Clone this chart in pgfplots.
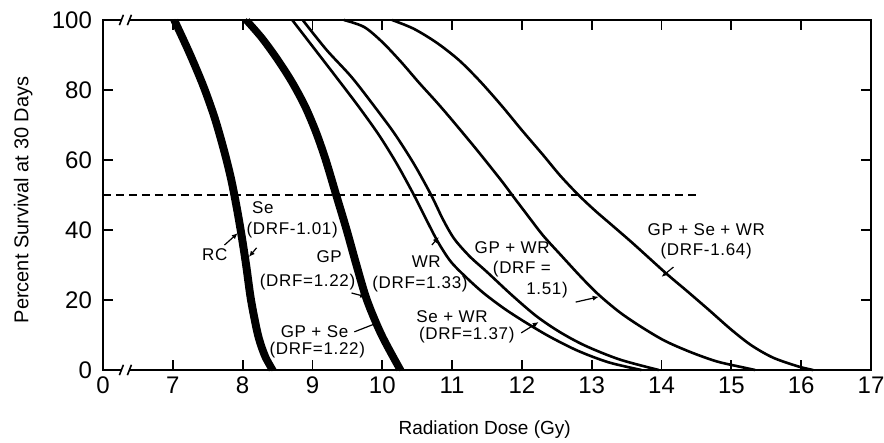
\documentclass[border=0pt]{standalone}
\usepackage{fontspec}
\setmainfont{Liberation Sans}
\usepackage{pgfplots}
\pgfplotsset{compat=1.18}
\usetikzlibrary{arrows.meta}

\tikzset{
  lab/.style={font=\fontsize{8.5}{9}\selectfont\addfontfeatures{LetterSpace=4}, inner sep=0pt},
  arr/.style={-{Latex[length=3pt,width=2.6pt]}, line width=0.6pt},
}

\begin{document}
\begin{tikzpicture}
\begin{axis}[
  name=ax,
  scale only axis,
  width=384pt, height=175pt,
  xmin=6, xmax=17, ymin=0, ymax=100,
  clip=false,
  axis line style={line width=1.1pt},
  xtick={6,...,17},
  xticklabels={0,7,8,9,10,11,12,13,14,15,16,17},
  ytick={0,20,40,60,80,100},
  tick align=inside,
  major tick length=5pt,
  tick style={line width=0.9pt, black},
  tick label style={font=\fontsize{12}{12}\selectfont},
  yticklabel style={xshift=-2pt},
  /pgf/number format/assume math mode=true,
  xlabel={Radiation Dose (Gy)},
  ylabel={Percent Survival at 30 Days},
  xlabel style={font=\fontsize{9.5}{10}\selectfont, at={(axis description cs:0.497,-0.171)}, anchor=center},
  ylabel style={font=\fontsize{10}{11}\selectfont, at={(axis description cs:-0.104,0.486)}, anchor=center},
]

% 50% survival reference
\addplot[black, line width=0.8pt, dash pattern=on 4pt off 2.5pt] coordinates {(6,50) (14.56,50)};

% RC and Se (thick pair)
\addplot[black, line width=2.6pt, smooth] coordinates {
(7.00,100) (7.22,90.5) (7.42,81) (7.58,72) (7.71,63) (7.81,55) (7.89,47) (7.96,39) (8.03,30) (8.10,20) (8.20,10) (8.30,4) (8.41,0)};
\addplot[black, line width=2.6pt, smooth] coordinates {
(7.04,100) (7.26,90.5) (7.46,81) (7.62,72) (7.75,63) (7.85,55) (7.93,47) (8.00,39) (8.07,30) (8.14,20) (8.24,10) (8.34,4) (8.45,0)};

% GP and GP + Se (thick pair)
\addplot[black, line width=2.6pt, smooth] coordinates {
(8.03,100) (8.25,95) (8.47,89) (8.68,82.5) (8.87,75.5) (9.03,68) (9.17,60) (9.32,50) (9.47,40) (9.61,30) (9.76,20) (9.97,10) (10.24,0)};
\addplot[black, line width=2.6pt, smooth] coordinates {
(8.07,100) (8.29,95) (8.51,89) (8.72,82.5) (8.91,75.5) (9.07,68) (9.21,60) (9.36,50) (9.51,40) (9.65,30) (9.80,20) (10.01,10) (10.28,0)};

% WR
\addplot[black, line width=1.3pt, smooth] coordinates {
(8.71,100) (9.00,92.5) (9.34,83.7) (9.66,75.3) (9.95,67.2) (10.20,59.2) (10.44,50.5) (10.63,43) (10.80,36.5) (10.98,31) (11.20,26.5) (11.45,22) (11.75,17.5) (12.06,13.5) (12.40,9.5) (12.80,5.5) (13.24,2.2) (13.71,0)};
% Se + WR
\addplot[black, line width=1.3pt, smooth] coordinates {
(8.86,100) (9.20,91.5) (9.56,83.7) (9.88,75.5) (10.17,67.7) (10.45,59) (10.70,50) (10.87,43) (11.03,37.5) (11.25,32.5) (11.50,28) (11.85,21.5) (12.20,15.5) (12.53,11) (12.90,7) (13.40,3) (13.96,0)};
% GP + WR
\addplot[black, line width=1.3pt, smooth] coordinates {
(9.45,100) (9.74,98) (10.00,93.7) (10.27,88) (10.53,82) (10.78,76.5) (11.00,71.4) (11.35,63) (11.71,54) (11.86,50) (12.05,45) (12.30,38.5) (12.55,33) (12.85,26.5) (13.10,21.5) (13.40,16.5) (13.71,12.3) (14.05,8.3) (14.43,5) (14.80,2.4) (15.20,0.6) (15.34,0)};
% GP + Se + WR
\addplot[black, line width=1.3pt, smooth] coordinates {
(10.14,100) (10.45,97.5) (10.78,93.5) (11.10,88.5) (11.40,82.5) (11.71,75.5) (12.00,68.5) (12.30,61.5) (12.55,55.5) (12.81,50) (13.05,45.5) (13.30,41.2) (13.60,36) (14.06,27.7) (14.35,22.8) (14.67,17.3) (15.00,11.5) (15.29,7) (15.60,3.5) (15.96,1) (16.17,0)};

% labels
\node[lab, anchor=west] at (axis cs:8.13,46.3) {Se};
\node[lab] at (axis cs:8.71,40) {(DRF-1.01)};
\node[lab] at (axis cs:7.60,32.9) {RC};
\draw[arr] (axis cs:7.74,35.7) -- (axis cs:7.93,39.1);
\draw[arr] (axis cs:8.20,34.9) -- (axis cs:8.09,32.3);

\node[lab] at (axis cs:9.24,32.3) {GP};
\node[lab] at (axis cs:8.93,25.1) {(DRF=1.22)};
\draw[arr] (axis cs:9.56,22) -- (axis cs:9.77,20.9);

\node[lab] at (axis cs:9.03,10.9) {GP + Se};
\node[lab] at (axis cs:9.07,5.7) {(DRF=1.22)};
\draw[arr] (axis cs:9.60,10.9) -- (axis cs:9.96,13.7);

\node[lab] at (axis cs:10.63,30.9) {WR};
\node[lab] at (axis cs:10.54,24.6) {(DRF=1.33)};
\draw[arr] (axis cs:10.71,35.7) -- (axis cs:10.81,38);

\node[lab] at (axis cs:11.86,34.9) {GP + WR};
\node[lab] at (axis cs:12.00,28.9) {(DRF =};
\node[lab] at (axis cs:12.36,22.9) {1.51)};
\draw[arr] (axis cs:12.77,19.4) -- (axis cs:13.10,20.9);

\node[lab] at (axis cs:11.00,15.1) {Se + WR};
\node[lab] at (axis cs:11.21,10) {(DRF=1.37)};
\draw[arr] (axis cs:11.99,10.6) -- (axis cs:12.24,13.7);

\node[lab] at (axis cs:14.64,40) {GP + Se + WR};
\node[lab] at (axis cs:14.64,34) {(DRF-1.64)};
\draw[arr] (axis cs:14.17,29.4) -- (axis cs:14.00,26.6);
\end{axis}

% axis breaks on the x axis
\foreach \c in {south west, north west} {
  \fill[white] ([shift={(9.2pt,-1.2pt)}]ax.\c) rectangle ([shift={(13.2pt,1.2pt)}]ax.\c);
  \draw[line width=0.8pt] ([shift={(8.2pt,-2.6pt)}]ax.\c) -- ([shift={(10.2pt,2.6pt)}]ax.\c);
  \draw[line width=0.8pt] ([shift={(12.2pt,-2.6pt)}]ax.\c) -- ([shift={(14.2pt,2.6pt)}]ax.\c);
}

\pgfresetboundingbox
\path ([shift={(-51.5pt,-36.5pt)}]ax.south west) rectangle ([shift={(6.5pt,10pt)}]ax.north east);
\end{tikzpicture}
\end{document}
